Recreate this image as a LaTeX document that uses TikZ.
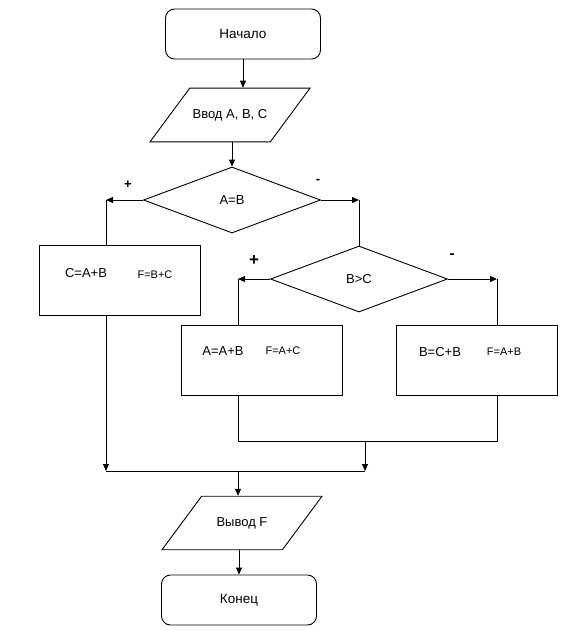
\documentclass[tikz,border=0pt]{standalone}
\usepackage{fontspec}
\setmainfont{Liberation Sans}
\usetikzlibrary{arrows.meta,shapes.geometric,positioning}
\begin{document}
\begin{tikzpicture}[x=1pt,y=-1pt,line width=0.9pt,
  term/.style={draw,rounded corners=9pt,minimum width=155pt,minimum height=50pt,font=\fontsize{13.5}{15}\selectfont},
  io/.style={draw,trapezium,trapezium left angle=53.5,trapezium right angle=126.5,trapezium stretches body,
             minimum width=160pt,inner xsep=0pt,inner ysep=21pt,font=\fontsize{13}{15}\selectfont},
  cond/.style={draw,diamond,minimum width=177pt,minimum height=66pt,inner sep=0pt,font=\fontsize{13}{15}\selectfont},
  proc/.style={draw,minimum width=161pt,minimum height=70pt,inner sep=0pt},
  txt/.style={font=\fontsize{13}{15}\selectfont,inner sep=0pt},
  stxt/.style={font=\fontsize{11}{13}\selectfont,inner sep=0pt},
  sign/.style={font=\bfseries\fontsize{13}{15}\selectfont,inner sep=0pt},
  arr/.style={-{Triangle[length=7pt,width=6pt]}}]
  \useasboundingbox (0,0) rectangle (561,630);
  % ---- main column
  \node[term] (start) at (243,34)  {Начало};
  \node[io]   (in)    at (230,115) {Ввод A, B, C};
  \node[cond] (ab)    at (232,200) {A=B};
  \node[cond] (bc)    at (359,279) {B>C};
  % ---- process boxes
  \node[proc] (p1) at (120,280) {};
  \node[txt]  (p1a) at (86,273)  {C=A+B};
  \node[stxt] (p1b) at (155,275) {F=B+C};
  \node[proc] (p2) at (262,360) {};
  \node[txt]  (p2a) at (223,351) {A=A+B};
  \node[stxt] (p2b) at (283,351) {F=A+C};
  \node[proc] (p3) at (477,360) {};
  \node[txt]  (p3a) at (440,352) {B=C+B};
  \node[stxt] (p3b) at (504,352) {F=A+B};
  \node[io]   (out) at (242,523) {Вывод F};
  \node[term] (fin) at (239,600) {Конец};
  % ---- branch signs
  \node[sign] (pa) at (128,185) {+};
  \node[sign] (ma) at (318,181) {-};
  \node[sign,font=\bfseries\fontsize{17}{19}\selectfont] (pb) at (254,261) {+};
  \node[sign,font=\bfseries\fontsize{15}{17}\selectfont] (mb) at (452,256) {-};
  % ---- corners
  \coordinate (l1) at (106,200);
  \coordinate (r1) at (359,200);
  \coordinate (l2) at (238,279);
  \coordinate (r2) at (497,279);
  \coordinate (m2) at (365,441);
  \coordinate (m1) at (106,471);
  \coordinate (mr) at (365,471);
  \coordinate (mo) at (238,471);
  % ---- arrows
  \draw[arr] (start.south) -- (start.south |- in.north);
  \draw[arr] (ab.north |- in.south) -- (ab.north);
  \draw[arr] (ab.west) -- (l1); \draw (l1) -- (l1 |- p1.north);
  \draw[arr] (ab.east) -- (r1); \draw (r1) -- (bc.north);
  \draw[arr] (bc.west) -- (l2); \draw (l2) -- (l2 |- p2.north);
  \draw[arr] (bc.east) -- (r2); \draw (r2) -- (r2 |- p3.north);
  \draw (l2 |- p2.south) -- (l2 |- m2) -- (r2 |- m2) -- (r2 |- p3.south);
  \draw[arr] (m2) -- (mr);
  \draw[arr] (l1 |- p1.south) -- (m1);
  \draw (m1) -- (mr);
  \draw[arr] (mo) -- (mo |- out.north);
  \draw[arr] (fin.north |- out.south) -- (fin.north);
\end{tikzpicture}
\end{document}
